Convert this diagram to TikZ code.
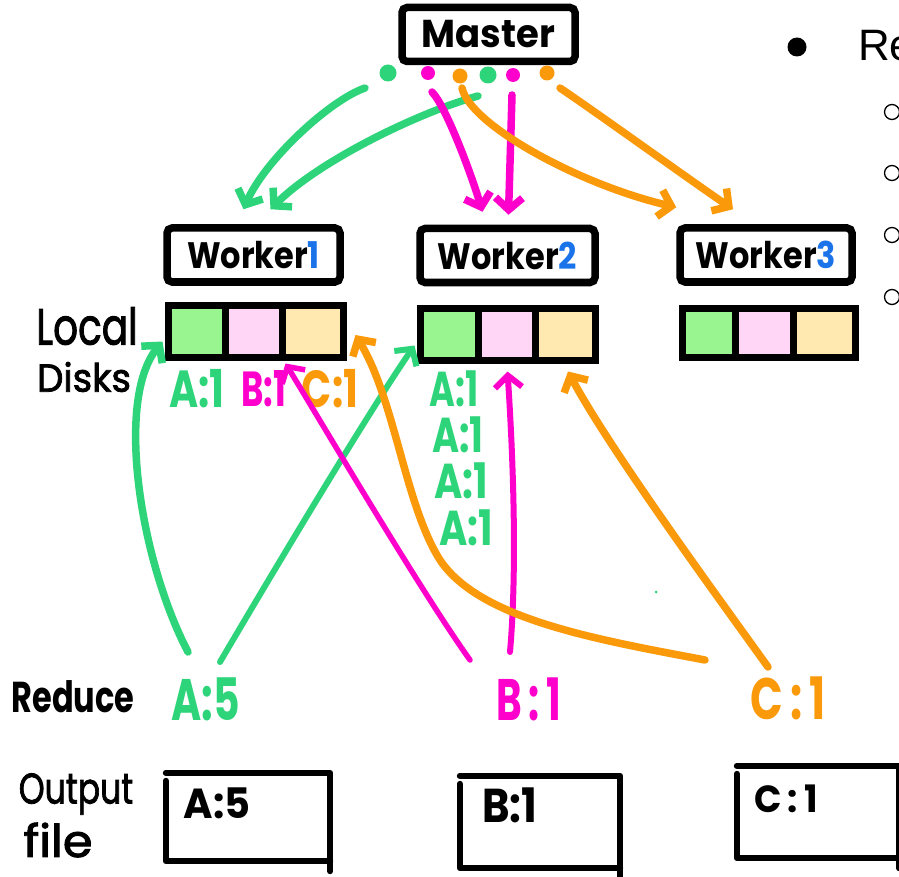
\documentclass[tikz,border=0pt]{standalone}
\usepackage{fontspec}
\newfontfamily\hand{Poppins}
\newfontfamily\handm{Poppins}[FakeBold=2]
\newfontfamily\arial{Liberation Sans}
\usetikzlibrary{arrows.meta,calc}
\definecolor{gr}{HTML}{2ED47A}
\definecolor{mg}{HTML}{FF00CC}
\definecolor{og}{HTML}{FA9A0A}
\definecolor{bl}{HTML}{1A73E8}
\definecolor{cellg}{HTML}{98F590}
\definecolor{cellp}{HTML}{FFD6F6}
\definecolor{celly}{HTML}{FFE9B0}
% handwritten-looking text: x stretch, y stretch, size, text
\newcommand\hw[4]{\scalebox{#1}[#2]{\fontsize{#3}{#3}\selectfont #4}}
\begin{document}
\begin{tikzpicture}[x=1pt,y=-1pt,
  box/.style={draw=black,line width=7.5pt,rounded corners=5pt,inner sep=0pt,minimum height=54pt},
  cell/.style={draw=black,line width=7pt,inner sep=0pt},
  dot/.style={circle,inner sep=0pt,minimum size=15pt},
  hand/.style={font=\hand\bfseries,inner sep=0pt},
  handlight/.style={font=\handm,inner sep=0pt},
  wire/.style={line width=7.5pt,line cap=round,line join=round,
    -{Straight Barb[length=12pt,width=27pt]}},
  obox/.style={line width=6pt,line cap=round,line join=round},
]
\useasboundingbox (0,0) rectangle (899,877);

% master and its task dots
\node[box,minimum width=173pt] (master) at (488.5,34.5) {};
\node[hand] at (master) {\hw{1}{1.05}{37}{Master}};
\node[dot,fill=gr,minimum size=17pt] (m1) at (388,73) {};
\node[dot,fill=mg,minimum size=14pt] (m2) at (428,73) {};
\node[dot,fill=og] (m3) at (460,76) {};
\node[dot,fill=gr,minimum size=17pt] (m4) at (488,75) {};
\node[dot,fill=mg,minimum size=14pt] (m5) at (513,75) {};
\node[dot,fill=og] (m6) at (547,73) {};

% workers
\node[box,minimum width=173pt] (worker1) at (253.5,255) {};
\node[hand] at (worker1) {\hw{1}{1.15}{32}{Worker\textcolor{bl}{1}}};
\node[box,minimum width=175pt] (worker2) at (507.5,255.5) {};
\node[hand] at (worker2) {\hw{1}{1.15}{32}{Worker\textcolor{bl}{2}}};
\node[box,minimum width=172pt] (worker3) at (766,255) {};
\node[hand] at (worker3) {\hw{1}{1.15}{32}{Worker\textcolor{bl}{3}}};

% local disks
\node[cell,fill=cellg,minimum width=57pt,minimum height=52pt] (d1a) at (196.5,331) {};
\node[cell,fill=cellp,minimum width=57pt,minimum height=52pt] (d1b) at (253.5,331) {};
\node[cell,fill=celly,minimum width=61pt,minimum height=52pt] (d1c) at (312.5,331) {};
\node[cell,fill=cellg,minimum width=58pt,minimum height=52pt] (d2a) at (449,334) {};
\node[cell,fill=cellp,minimum width=57pt,minimum height=52pt] (d2b) at (506.5,334) {};
\node[cell,fill=celly,minimum width=60pt,minimum height=52pt] (d2c) at (565,334) {};
\node[cell,fill=cellg,minimum width=53pt,minimum height=49pt] (d3a) at (708.5,332.5) {};
\node[cell,fill=cellp,minimum width=58pt,minimum height=49pt] (d3b) at (764,332.5) {};
\node[cell,fill=celly,minimum width=62pt,minimum height=49pt] (d3c) at (824,332.5) {};

% left-hand row titles
\node[handlight] (tlocal) at (87,326) {\hw{1}{1.3}{39}{Local}};
\node[handlight] (tdisks) at (84,377) {\hw{1.1}{1.15}{34}{Disks}};
\node[hand] (treduce) at (73,697) {\hw{1}{1.35}{32}{Reduce}};
\node[handlight] (toutput) at (76,794) {\hw{1}{1.3}{33}{Output}};
\node[handlight] (tfile) at (58,840) {\hw{1.6}{1.5}{30}{file}};

% intermediate pairs on the disks
\node[hand,text=gr] (k1a) at (197,389) {\hw{1.1}{1.45}{36}{A:1}};
\node[hand,text=mg] (k1b) at (264,389) {\hw{1}{1.45}{34}{B:1}};
\node[hand,text=og] (k1c) at (330,389) {\hw{1.1}{1.45}{36}{C:1}};
\node[hand,text=gr] (k2a) at (454,389) {\hw{1}{1.4}{35}{A:1}};
\node[hand,text=gr] (k2b) at (458,435) {\hw{1.05}{1.4}{35}{A:1}};
\node[hand,text=gr] (k2c) at (461,481) {\hw{1.1}{1.4}{35}{A:1}};
\node[hand,text=gr] (k2d) at (466,528) {\hw{1.1}{1.4}{35}{A:1}};

% reduce results
\node[hand,text=gr] (ra) at (206,699) {\hw{1.05}{1.5}{39}{A:5}};
\node[hand,text=mg] (rb) at (529,699) {\hw{1}{1.5}{39}{B\,:\,1}};
\node[hand,text=og] (rc) at (788,698) {\hw{1.1}{1.5}{39}{C\,:\,1}};

% output files
\node[minimum width=164pt,minimum height=88pt,inner sep=0pt] (o1) at (248,817) {};
\node[minimum width=160pt,minimum height=92pt,inner sep=0pt] (o2) at (540,822) {};
\node[minimum width=162pt,minimum height=92pt,inner sep=0pt] (o3) at (818,812) {};
\foreach \o in {o1,o2,o3}{
  \draw[obox] (\o.north west) -- (\o.north east) -- ([yshift=-10pt]\o.south east);
  \draw[obox] ([yshift=-8pt]\o.north west) -- (\o.south west) -- (\o.south east);
}
\node[hand] (f1) at (217,803) {\hw{1}{1.05}{40}{A:5}};
\node[hand] (f2) at (510,805) {\hw{1.1}{1.25}{38}{B:1}};
\node[hand] (f3) at (786,799) {\hw{1}{1.05}{36}{C\,:\,1}};

% master -> workers
\coordinate (gs1) at (365,88);
\coordinate (gs2) at (478,96);
\coordinate (ms1) at (432,92);
\coordinate (ms2) at (512,95);
\coordinate (os1) at (462,88);
\coordinate (os2) at (560,88);
\draw[wire,gr] (gs1) .. controls (330,100) and (265,160) .. ([xshift=-10pt,yshift=15pt]worker1.north);
\draw[wire,gr] (gs2) .. controls (420,112) and (320,160) .. ([xshift=17pt,yshift=15pt]worker1.north);
\draw[wire,mg] (ms1) .. controls (445,105) and (470,170) .. ([xshift=-25pt,yshift=13pt]worker2.north);
\draw[wire,mg] (ms2) -- ([xshift=1pt,yshift=10pt]worker2.north);
\draw[wire,og] (os1) .. controls (470,125) and (580,185) .. ([yshift=17pt]worker3.north west);
\draw[wire,og] (os2) .. controls (600,115) and (690,180) .. ([xshift=-33pt,yshift=15pt]worker3.north);

% reduce -> disks
\coordinate (rgl) at (188,652);
\coordinate (rgr) at (220,662);
\coordinate (rml) at (470,660);
\coordinate (rmr) at (510,652);
\coordinate (rol) at (705,660);
\coordinate (ror) at (768,667);
\draw[wire,gr] (rgl) .. controls (140,560) and (115,400) .. ([xshift=-2pt,yshift=19pt]d1a.south west);
\draw[wire,gr,line width=6pt] (rgr) .. controls (280,560) and (370,410) .. ([xshift=-2pt,yshift=18pt]d2a.south west);
\draw[wire,mg,line width=5.5pt] (rml) .. controls (420,590) and (320,420) .. ([yshift=-3pt]d1b.south east);
\draw[wire,mg,line width=6pt] (rmr) .. controls (518,560) and (512,440) .. ([xshift=1pt,yshift=-8pt]d2b.south);
\draw[wire,og] (rol) .. controls (600,640) and (480,620) .. (440,560)
  .. controls (405,505) and (395,400) .. ([xshift=9pt,yshift=-4pt]d1c.east);
\draw[wire,og] (ror) .. controls (720,600) and (610,450) .. ([xshift=3pt,yshift=-8pt]d2c.south);
\fill[gr] (656,592) circle (1.5);

% slide text at the right edge
\fill[black] (797,47) circle (9.5);
\node[font=\arial\fontsize{44}{44}\selectfont,anchor=base west,inner sep=0pt] (re) at (858,61) {Re};
\foreach \y in {112,173,235,297}
  \draw[black,line width=1.3pt] (892,\y) circle (7.5);
\end{tikzpicture}
\end{document}
